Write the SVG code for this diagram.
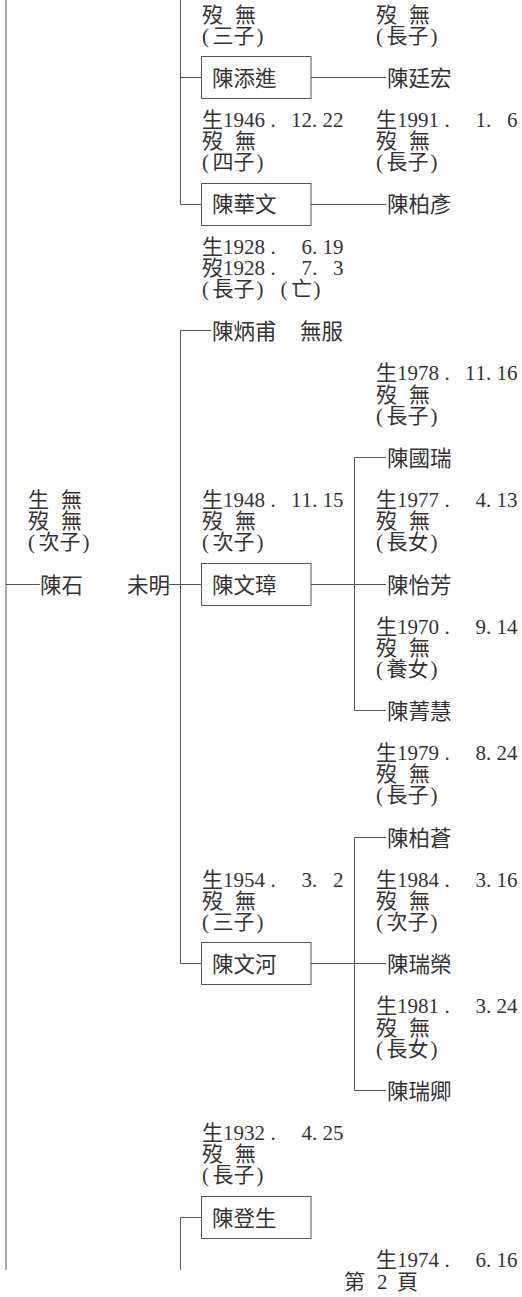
<svg xmlns="http://www.w3.org/2000/svg" width="522" height="1297" viewBox="0 0 522 1297">
<style>
.t{font-family:"Liberation Serif","Noto Sans CJK TC",serif;font-size:21px;fill:#333}
.n{font-family:"Liberation Serif","Noto Sans CJK TC",serif;font-size:21.5px;fill:#333}
.box{fill:#fff;stroke:#555;stroke-width:1}
.ln{fill:none;stroke:#555;stroke-width:1}
</style>
<rect width="522" height="1297" fill="#fff"/>
<g id="connectors" class="ln">
<path d="M6 0V1270M6 584.5H40"/>
<path d="M180.5 0V204.5M180.5 77.5H201.5M180.5 204.5H201.5"/>
<path d="M180.5 330.5V963.5M180.5 330.5H211M180.5 963.5H201.5M169 584.5H201.5"/>
<path d="M180.5 1217.5V1270M180.5 1217.5H201.5"/>
<path d="M311 77.5H386M311 204.5H386M311 584.5H386M311 963.5H386"/>
<path d="M354.5 457.5V710.5M354.5 457.5H386M354.5 710.5H386"/>
<path d="M354.5 837.5V1090.5M354.5 837.5H386M354.5 1090.5H386"/>
</g>
<g id="top-info">
<text class="t"><tspan x="202 223 235" y="21.7">歿 無</tspan> <tspan x="202 212.5 233.5 256.5" y="42.8">(三子)</tspan></text>
<text class="t"><tspan x="376 397 409" y="21.7">歿 無</tspan> <tspan x="376 386.5 407.5 430.5" y="42.8">(長子)</tspan></text>
</g>
<g id="node-chen-tianjin">
<rect class="box" x="201.5" y="56.5" width="109.5" height="42"/>
<text class="n" x="212" y="85.8">陳添進</text>
<text class="t"><tspan x="202 223 233.5 244 254.5 270.5" y="127.2">生1946.</tspan> <tspan x="291 301.5 312 322.5 333">12.22</tspan> <tspan x="202 223 235" y="148.3">歿 無</tspan> <tspan x="202 212.5 233.5 256.5" y="169.4">(四子)</tspan></text>
</g>
<g id="node-chen-tinghong">
<text class="n" x="387" y="85.8">陳廷宏</text>
<text class="t"><tspan x="376 397 407.5 418 428.5 444.5" y="127.2">生1991.</tspan> <tspan x="475.5 486 496.5 507">1. 6</tspan> <tspan x="376 397 409" y="148.3">歿 無</tspan> <tspan x="376 386.5 407.5 430.5" y="169.4">(長子)</tspan></text>
</g>
<g id="node-chen-huawen">
<rect class="box" x="201.5" y="183.5" width="109.5" height="42"/>
<text class="n" x="212" y="212.4">陳華文</text>
<text class="t"><tspan x="202 223 233.5 244 254.5 270.5" y="253.8">生1928.</tspan> <tspan x="301.5 312 322.5 333">6.19</tspan> <tspan x="202 223 233.5 244 254.5 270.5" y="274.9">歿1928.</tspan> <tspan x="301.5 312 322.5 333">7. 3</tspan> <tspan x="202 212.5 233.5 256.5" y="296">(長子)</tspan> <tspan x="280.5 291 313.5">(亡)</tspan></text>
</g>
<g id="node-chen-boyan">
<text class="n" x="387" y="212.4">陳柏彥</text>
</g>
<g id="node-chen-bingfu">
<text class="n" x="212" y="339">陳炳甫</text>
<text class="n" x="300" y="339">無服</text>
</g>
<g id="node-chen-guorui">
<text class="t"><tspan x="376 397 407.5 418 428.5 444.5" y="380.4">生1978.</tspan> <tspan x="465 475.5 486 496.5 507">11.16</tspan> <tspan x="376 397 409" y="401.5">歿 無</tspan> <tspan x="376 386.5 407.5 430.5" y="422.6">(長子)</tspan></text>
<text class="n" x="387" y="465.6">陳國瑞</text>
</g>
<g id="node-chen-shi">
<text class="t"><tspan x="28 49 61" y="507">生 無</tspan> <tspan x="28 49 61" y="528.1">歿 無</tspan> <tspan x="28 38.5 59.5 82.5" y="549.2">(次子)</tspan></text>
<text class="n" x="40" y="592.5">陳石</text>
<text class="n" x="127" y="592.5">未明</text>
</g>
<g id="node-chen-wenzhang">
<text class="t"><tspan x="202 223 233.5 244 254.5 270.5" y="507">生1948.</tspan> <tspan x="291 301.5 312 322.5 333">11.15</tspan> <tspan x="202 223 235" y="528.1">歿 無</tspan> <tspan x="202 212.5 233.5 256.5" y="549.2">(次子)</tspan></text>
<rect class="box" x="201.5" y="563.5" width="109.5" height="42"/>
<text class="n" x="212" y="592.5">陳文璋</text>
</g>
<g id="node-chen-yifang">
<text class="t"><tspan x="376 397 407.5 418 428.5 444.5" y="507">生1977.</tspan> <tspan x="475.5 486 496.5 507">4.13</tspan> <tspan x="376 397 409" y="528.1">歿 無</tspan> <tspan x="376 386.5 407.5 430.5" y="549.2">(長女)</tspan></text>
<text class="n" x="387" y="592.5">陳怡芳</text>
</g>
<g id="node-chen-jinghui">
<text class="t"><tspan x="376 397 407.5 418 428.5 444.5" y="633.6">生1970.</tspan> <tspan x="475.5 486 496.5 507">9.14</tspan> <tspan x="376 397 409" y="654.7">歿 無</tspan> <tspan x="376 386.5 407.5 430.5" y="675.8">(養女)</tspan></text>
<text class="n" x="387" y="718.8">陳菁慧</text>
</g>
<g id="node-chen-bocang">
<text class="t"><tspan x="376 397 407.5 418 428.5 444.5" y="760.2">生1979.</tspan> <tspan x="475.5 486 496.5 507">8.24</tspan> <tspan x="376 397 409" y="781.3">歿 無</tspan> <tspan x="376 386.5 407.5 430.5" y="802.4">(長子)</tspan></text>
<text class="n" x="387" y="845.8">陳柏蒼</text>
</g>
<g id="node-chen-wenhe">
<text class="t"><tspan x="202 223 233.5 244 254.5 270.5" y="886.8">生1954.</tspan> <tspan x="301.5 312 322.5 333">3. 2</tspan> <tspan x="202 223 235" y="907.9">歿 無</tspan> <tspan x="202 212.5 233.5 256.5" y="929">(三子)</tspan></text>
<rect class="box" x="201.5" y="942.5" width="109.5" height="42"/>
<text class="n" x="212" y="972">陳文河</text>
</g>
<g id="node-chen-ruirong">
<text class="t"><tspan x="376 397 407.5 418 428.5 444.5" y="886.8">生1984.</tspan> <tspan x="475.5 486 496.5 507">3.16</tspan> <tspan x="376 397 409" y="907.9">歿 無</tspan> <tspan x="376 386.5 407.5 430.5" y="929">(次子)</tspan></text>
<text class="n" x="387" y="972">陳瑞榮</text>
</g>
<g id="node-chen-ruiqing">
<text class="t"><tspan x="376 397 407.5 418 428.5 444.5" y="1013.4">生1981.</tspan> <tspan x="475.5 486 496.5 507">3.24</tspan> <tspan x="376 397 409" y="1034.5">歿 無</tspan> <tspan x="376 386.5 407.5 430.5" y="1055.6">(長女)</tspan></text>
<text class="n" x="387" y="1098.8">陳瑞卿</text>
</g>
<g id="node-chen-dengsheng">
<text class="t"><tspan x="202 223 233.5 244 254.5 270.5" y="1140">生1932.</tspan> <tspan x="301.5 312 322.5 333">4.25</tspan> <tspan x="202 223 235" y="1161.1">歿 無</tspan> <tspan x="202 212.5 233.5 256.5" y="1182.2">(長子)</tspan></text>
<rect class="box" x="201.5" y="1196.5" width="109.5" height="42"/>
<text class="n" x="212" y="1225.5">陳登生</text>
</g>
<g id="bottom-info">
<text class="t"><tspan x="376 397 407.5 418 428.5 444.5" y="1266.6">生1974.</tspan> <tspan x="475.5 486 496.5 507">6.16</tspan></text>
</g>
<g id="page-footer">
<text class="t" y="1289" x="344 365 377 387.5 397">第 2 頁</text>
</g>
</svg>
